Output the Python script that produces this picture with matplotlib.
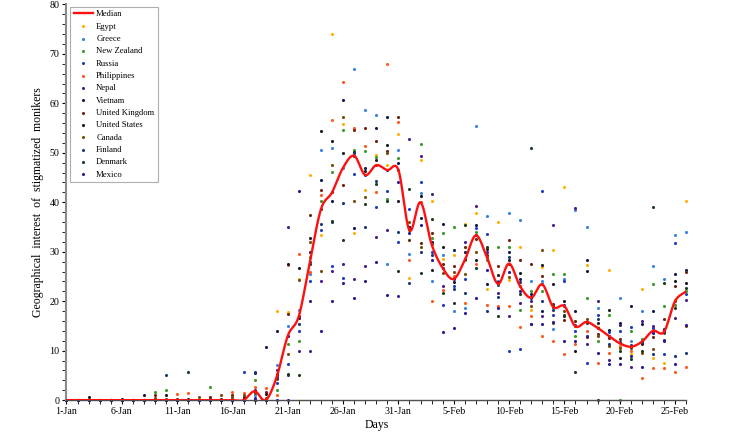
import numpy as np
import matplotlib
matplotlib.use('Agg')
import matplotlib.pyplot as plt
from matplotlib.ticker import MultipleLocator

plt.rcParams['font.family'] = ['Liberation Serif', 'DejaVu Serif']

# 57 days, 1-Jan .. 26-Feb
tick_labels = ['1-Jan', '6-Jan', '11-Jan', '16-Jan', '21-Jan', '26-Jan', '31-Jan',
               '5-Feb', '10-Feb', '15-Feb', '20-Feb', '25-Feb']

z = [0] * 17

egypt = z + [0, 0, 18.0, 17.8, 24.5, 45.5, 33.3, 74.1, 55.8, 33.7, 42.4, 49.6, 47.6, 53.7,
             24.7, 48.6, 40.3, 28.6, 29.3, 35.7, 37.9, 22.4, 36.0, 24.2, 31.0, 18.3, 26.9,
             30.3, 43.0, 15.0, 27.3, 14.8, 26.4, 11.5, 9.3, 22.5, 8.6, 7.6, 20.2, 40.3]
greece = z + [1.0, 0, 7.1, 15.0, 18.3, 25.4, 50.6, 51.0, 47.0, 67.0, 58.6, 57.6, 27.6, 50.6,
              29.6, 41.9, 24.0, 29.3, 18.0, 18.6, 55.4, 37.2, 24.0, 37.9, 36.4, 24.0, 24.0,
              14.3, 24.5, 38.5, 35.0, 18.6, 13.0, 20.7, 12.0, 18.0, 27.1, 24.4, 33.3, 34.0]
new_zealand = [0, 0, 0, 0, 0, 0, 0, 0, 1.7, 2.0, 0, 0, 0, 2.7, 0, 0, 0] + \
    [4.0, 0, 2.0, 11.3, 12.0, 29.0, 40.3, 46.1, 54.7, 50.5, 50.3, 49.1, 40.7, 48.9,
     34.3, 51.7, 32.7, 33.7, 35.0, 28.3, 34.0, 28.3, 31.0, 31.0, 18.3, 22.0, 22.0,
     25.4, 25.4, 13.0, 20.7, 12.0, 17.3, 0, 14.0, 12.3, 23.4, 19.0, 19.3, 22.0]
russia = [0] * 16 + [5.7] + \
    [0, 0, 3.5, 7.4, 14.0, 24.0, 34.3, 27.1, 24.7, 45.7, 45.5, 39.1, 42.3, 32.0,
     38.7, 44.0, 30.0, 19.3, 23.0, 24.4, 34.7, 33.5, 23.3, 10.0, 10.3, 20.7, 42.3,
     17.3, 24.0, 14.0, 7.6, 17.3, 13.8, 13.9, 14.7, 12.0, 14.5, 9.3, 31.7, 21.5]
philippines = [0] * 10 + [1.3, 1.4, 0, 0, 0, 1.7, 1.4] + \
    [2.7, 2.4, 1.0, 27.3, 29.6, 26.0, 41.4, 56.7, 64.4, 55.0, 51.3, 42.0, 68.0, 56.2,
     28.3, 40.0, 20.0, 22.2, 25.0, 19.7, 27.6, 19.3, 19.0, 19.0, 14.7, 17.0, 13.0,
     12.0, 9.3, 11.3, 14.0, 7.6, 9.6, 11.0, 10.0, 4.4, 6.4, 6.4, 5.6, 6.7]
nepal = z + [2.0, 0, 6.1, 35.0, 10.0, 10.0, 24.0, 26.1, 27.6, 24.4, 27.1, 33.0, 34.3, 21.0,
             52.7, 49.3, 41.6, 23.0, 24.5, 32.0, 39.3, 30.0, 21.7, 17.0, 19.7, 20.0, 17.0,
             35.4, 19.2, 38.9, 11.3, 20.0, 8.2, 15.2, 6.7, 16.0, 15.0, 12.2, 16.7, 20.3]
vietnam = [0, 0, 0, 0, 0, 0.3, 0, 0, 0, 0, 0, 0, 0, 0.3, 0, 0.3, 0.3] + \
    [5.4, 10.8, 14.0, 13.0, 16.7, 30.0, 44.4, 40.3, 60.7, 34.7, 47.0, 55.0, 57.2, 47.9,
     35.0, 36.9, 32.0, 35.7, 30.3, 30.0, 35.4, 23.4, 23.8, 30.0, 24.4, 21.5, 18.0,
     18.8, 20.0, 18.0, 28.3, 14.6, 14.1, 15.6, 19.0, 15.4, 18.0, 14.4, 25.4, 26.3]
united_kingdom = [0, 0, 0, 0, 0, 0, 0, 0, 1.0, 0, 0.3, 0, 0, 0.7, 0, 1.0, 0] + \
    [1.8, 1.7, 4.7, 17.5, 17.0, 37.4, 42.4, 42.0, 43.4, 54.6, 55.0, 52.3, 50.4, 57.2,
     32.3, 31.7, 33.7, 27.6, 27.1, 31.0, 32.5, 29.3, 27.1, 32.3, 28.3, 27.6, 25.1,
     19.5, 16.2, 16.0, 12.7, 13.3, 12.5, 12.3, 11.0, 11.3, 12.7, 16.4, 23.0, 26.0]
united_states = [0, 0, 0.7, 0, 0, 0, 0, 1.0, 0, 1.0, 0, 0.3, 0, 0, 0.3, 0, 0.7] + \
    [1.8, 1.3, 5.3, 27.6, 26.7, 32.7, 54.4, 52.4, 50.0, 50.2, 46.3, 48.5, 51.6, 40.3,
     35.0, 41.3, 26.4, 31.0, 23.9, 28.5, 28.3, 30.6, 25.3, 28.3, 25.7, 20.9, 27.3,
     23.4, 17.0, 10.0, 26.1, 15.6, 18.3, 8.6, 10.8, 11.5, 14.0, 14.0, 24.0, 23.7]
canada = [0, 0, 0, 0, 0, 0, 0, 0, 0.5, 0.3, 0, 0, 0.7, 0, 1.0, 0.7, 1.0] + \
    [1.5, 0.5, 4.2, 9.3, 24.2, 32.0, 26.1, 47.6, 57.2, 40.3, 41.1, 47.5, 50.0, 46.5,
     36.0, 31.0, 31.5, 25.7, 26.0, 25.4, 30.0, 28.9, 23.5, 24.8, 23.0, 19.0, 30.3,
     15.5, 18.0, 14.9, 16.5, 13.0, 11.0, 10.5, 10.6, 9.6, 10.3, 13.5, 20.0, 14.9]
finland = [0] * 9 + [5.0] + [0] * 7 + \
    [5.7, 0, 4.5, 5.0, 15.4, 28.0, 35.7, 36.0, 39.9, 50.0, 35.0, 44.3, 46.5, 34.0,
     23.7, 30.0, 29.3, 26.7, 22.5, 21.7, 33.3, 18.0, 20.9, 29.0, 23.8, 15.4, 20.0,
     18.2, 19.0, 15.2, 15.6, 16.4, 11.3, 11.7, 11.1, 11.8, 9.3, 13.8, 9.0, 9.6]
denmark = [0] * 11 + [5.7] + [0] * 5 + \
    [0, 0, 5.0, 5.3, 5.0, 27.5, 38.6, 36.2, 32.3, 49.4, 39.6, 43.6, 40.3, 26.1,
     42.6, 25.7, 36.7, 21.7, 19.7, 35.5, 26.7, 31.0, 17.0, 27.6, 21.5, 51.0, 23.4,
     19.0, 17.2, 5.6, 15.8, 0, 13.0, 10.0, 8.3, 10.0, 39.1, 23.7, 18.7, 22.7]
mexico = z + [0.5, 0, 0, 0, 42.3, 20.0, 14.0, 20.0, 23.7, 20.7, 24.0, 27.9, 21.3, 44.0,
              33.7, 35.4, 28.3, 13.7, 14.5, 17.6, 20.7, 26.4, 18.6, 26.0, 22.0, 15.4, 15.4,
              15.8, 12.0, 12.0, 13.0, 9.6, 7.3, 7.3, 9.0, 6.7, 13.5, 12.0, 7.4, 15.2]

countries = ['Egypt', 'Greece', 'New Zealand', 'Russia', 'Philippines', 'Nepal', 'Vietnam',
             'United Kingdom', 'United States', 'Canada', 'Finland', 'Denmark', 'Mexico']
series = [egypt, greece, new_zealand, russia, philippines, nepal, vietnam,
          united_kingdom, united_states, canada, finland, denmark, mexico]
colors = ['#ffb000', '#3a82e0', '#3a9a2a', '#1d3fc4', '#ff5a1e', '#4a1e90', '#101c50',
          '#6e2410', '#1c1c26', '#7a4a0c', '#183a78', '#1e3c1e', '#2c1a96']

data = np.array(series, dtype=float)
days = np.arange(data.shape[1])
median = np.median(data, axis=0)


def smooth(x, y, n=12):
    # catmull-rom spline, like the smoothed line in a spreadsheet
    p = np.concatenate([[2 * y[0] - y[1]], y, [2 * y[-1] - y[-2]]])
    xs, ys = [], []
    for i in range(len(y) - 1):
        t = np.linspace(0, 1, n, endpoint=False)
        p0, p1, p2, p3 = p[i], p[i + 1], p[i + 2], p[i + 3]
        ys.append(0.5 * (2 * p1 + (-p0 + p2) * t + (2 * p0 - 5 * p1 + 4 * p2 - p3) * t ** 2
                         + (-p0 + 3 * p1 - 3 * p2 + p3) * t ** 3))
        xs.append(x[i] + t)
    xs.append([x[-1]])
    ys.append([y[-1]])
    return np.concatenate(xs), np.concatenate(ys)


fig = plt.figure(figsize=(7.33, 4.34), dpi=100)
ax = fig.add_axes([0.0907, 0.078, 0.8453, 0.912])

sx, sy = smooth(days, median)
ax.plot(sx, sy, color='#ff1010', lw=1.7, label='Median', zorder=3)
for name, vals, col in zip(countries, series, colors):
    ax.scatter(days, vals, s=5, color=col, label=name, zorder=2, clip_on=False, linewidths=0)

ax.set_xlim(0, 56)
ax.set_ylim(0, 80)
ax.set_xticks(np.arange(0, 56, 5))
ax.set_xticklabels(tick_labels)
ax.xaxis.set_minor_locator(MultipleLocator(1))
ax.yaxis.set_major_locator(MultipleLocator(10))
ax.yaxis.set_minor_locator(MultipleLocator(2))
ax.tick_params(axis='both', which='major', labelsize=7.2, length=3, width=0.8, pad=2)
ax.tick_params(axis='both', which='minor', length=3, width=0.6)
for s in ['top', 'right']:
    ax.spines[s].set_visible(False)
ax.spines['left'].set_color('#8a8a8a')
ax.spines['left'].set_linewidth(1.5)
ax.spines['bottom'].set_color('#505050')
ax.spines['bottom'].set_linewidth(1.0)

ax.set_xlabel('Days', fontsize=8.5, labelpad=2)
ax.set_ylabel('Geographical  interest  of  stigmatized  monikers', fontsize=8.5, labelpad=4)

leg = ax.legend(loc='upper left', bbox_to_anchor=(0.002, 1.0), fontsize=6.2, frameon=True,
                fancybox=False, edgecolor='#9a9a9a', handlelength=2.2, handletextpad=0.4,
                labelspacing=0.5, borderpad=0.4, borderaxespad=0.3, markerscale=1.0)
leg.get_frame().set_linewidth(0.8)

fig.savefig('out.png', dpi=100)
